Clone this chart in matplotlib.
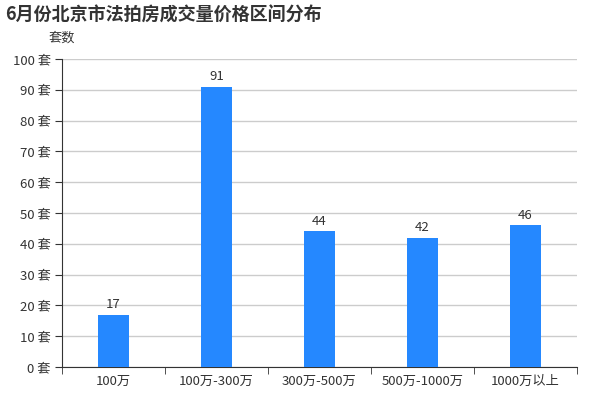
import numpy as np
import matplotlib.pyplot as plt

plt.rcParams['font.family'] = ['Noto Sans CJK SC', 'DejaVu Sans']

# 数据
categories = ['100万', '100万-300万', '300万-500万', '500万-1000万', '1000万以上']
counts = [17, 91, 44, 42, 46]
y_ticks = [0, 10, 20, 30, 40, 50, 60, 70, 80, 90, 100]

fig = plt.figure(figsize=(6, 4), dpi=100)
ax = fig.add_axes([62 / 600, 1 - 367 / 400, 515 / 600, 308 / 400])

x = np.arange(len(categories))
ax.bar(x, counts, width=0.3, color='#2588ff', zorder=3)
for xi, v in zip(x, counts):
    ax.text(xi, v + 1.2, str(v), ha='center', va='bottom', fontsize=9.5, color='#333333')

ax.set_xlim(-0.5, len(categories) - 0.5)
ax.set_ylim(0, 100)
ax.set_yticks(y_ticks)
ax.set_yticklabels([f'{t} 套' for t in y_ticks], fontsize=9.5, color='#333333')
ax.set_xticks(x)
ax.set_xticklabels(categories, fontsize=9.5, color='#333333')
ax.set_xticks(np.arange(len(categories) + 1) - 0.5, minor=True)
ax.tick_params(axis='x', which='major', length=0, pad=6)
ax.tick_params(axis='x', which='minor', length=5, color='#333333', direction='out')
ax.tick_params(axis='y', length=5, color='#333333', pad=3)

ax.grid(axis='y', color='#cccccc', linewidth=1, zorder=0)
for s in ['top', 'right']:
    ax.spines[s].set_visible(False)
ax.spines['left'].set_color('#333333')
ax.spines['bottom'].set_color('#333333')

fig.text(5 / 600, 1 - 15 / 400, '6月份北京市法拍房成交量价格区间分布', fontsize=13,
         fontweight='bold', color='#333333', ha='left', va='center')
fig.text(62 / 600, 1 - 38 / 400, '套数', fontsize=9.5, color='#333333', ha='center', va='center')

fig.savefig('out.png', dpi=100)
